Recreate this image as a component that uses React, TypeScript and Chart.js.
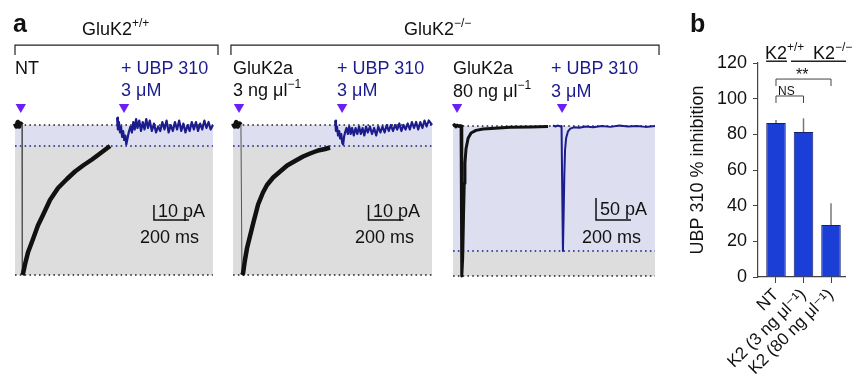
import React, { useEffect, useRef } from "react";
import { Chart, registerables } from "chart.js";

Chart.register(...registerables);

const FONT = "'Liberation Sans', Arial, Helvetica, 'DejaVu Sans', sans-serif";
Chart.defaults.font.family = FONT;

// ---------------- Panel a data ----------------
// time in ms from the left edge of each panel, current in pA (0 = baseline)
const panelStartMs = [0, 1246, 2503];
const panelLengthMs = [1131, 1137, 1154];
const peakPA = [-100, -100, -341];
const residualPA = [-14, -14, -284];
const puffTimesMs = [
  [33, 623],
  [34, 623],
  [23, 623],
];
const scaleBarCornerMs = [794, 774, 817];
const scaleBarCornerPA = [-63.3, -63.3, -213.6];
const scaleBarSizePA = [10, 10, 50];
const scaleBarSizeMs = 200;
const genotypeSpanMs = [
  [0, 1160],
  [1234, 3680],
];

const ntControl: [number, number][] = [
  [0, 1], [8, -1], [16, 2], [24, -1], [32, 1], [40, 0],
  [42, -100], [46, -99], [57, -93], [74, -85], [103, -76], [131, -67], [160, -60],
  [200, -50], [246, -42], [297, -36], [343, -31], [389, -27], [440, -23], [486, -19],
  [520, -16], [543, -14],
];
const ntUbp: [number, number][] = [
  [583, 5], [588, -3], [594, 2], [600, -5], [606, -1], [612, -8], [618, -4], [624, -10],
  [630, -7], [636, -13], [641, -10], [646, -7], [652, -4], [660, -1], [668, -5], [676, 2],
  [684, -3], [692, 4], [700, -2], [710, 3], [720, -4], [730, 2], [740, -3], [750, 4],
  [760, -2], [770, 3], [782, -4], [794, 1], [806, -5], [818, -1], [830, -4], [842, 2],
  [854, -3], [866, 3], [878, -5], [890, 0], [902, -4], [914, 2], [926, -3], [938, 3],
  [950, -4], [962, 1], [974, -5], [986, 0], [998, -4], [1010, 2], [1022, -3], [1034, 2],
  [1046, -4], [1058, 1], [1070, -3], [1082, 3], [1094, -2], [1106, 2], [1118, -3], [1131, 0],
];
const lowControl: [number, number][] = [
  [0, 1], [9, -1], [18, 2], [27, -1], [36, 1], [45, 0],
  [51, -100], [57, -99], [68, -90], [80, -82], [97, -74], [114, -66], [143, -53],
  [171, -45], [194, -40], [229, -35], [269, -31], [309, -27], [354, -24], [400, -21],
  [440, -19], [486, -17], [526, -16], [554, -15],
];
const lowUbp: [number, number][] = [
  [583, 3], [588, -4], [594, -1], [600, -7], [606, -4], [612, -9], [618, -6], [624, -12],
  [629, -13], [634, -8], [640, -5], [648, -2], [656, -6], [664, -1], [672, -6], [680, -2],
  [690, -7], [700, -2], [710, -6], [720, -1], [730, -6], [740, -2], [750, -7], [760, -1],
  [770, -5], [782, -1], [794, -6], [806, -2], [818, -7], [830, -1], [842, -5], [854, -1],
  [866, -5], [878, 0], [890, -4], [902, 0], [914, -4], [926, 0], [938, -3], [950, 1],
  [962, -4], [974, 0], [986, -3], [998, 1], [1010, -3], [1022, 2], [1034, -2], [1046, 2],
  [1058, -3], [1070, 2], [1082, -2], [1094, 3], [1106, -1], [1118, 3], [1137, 0],
];
const highControl: [number, number][] = [
  [0, 0], [8, 3], [16, -2], [24, 2], [32, -1], [40, 1], [46, 0],
  [50, -341], [55, -300], [60, -200], [64, -130], [68, -85], [74, -52], [86, -28],
  [103, -16], [131, -10], [171, -7], [240, -5], [326, -3], [440, -2], [543, -1],
];
const highUbp: [number, number][] = [
  [571, 1], [585, -1], [600, 1], [612, -1], [620, 0], [624, -150], [628, -284],
  [632, -200], [636, -110], [640, -55], [646, -28], [657, -12], [670, -6], [690, -3],
  [720, -4], [760, -1], [800, -3], [850, 0], [900, -2], [950, 1], [1000, -1], [1050, 0],
  [1100, -2], [1154, 0],
];

// ---------------- Panel b data ----------------
const categories = ["NT", "K2 (3 ng μl⁻¹)", "K2 (80 ng μl⁻¹)"];
const inhibitionMean = [86.4, 81.3, 29.2];
const inhibitionSem = [1.6, 7.7, 12.2];
const yTicks = { min: 0, max: 120, step: 20 };
const genotypeGroups = [
  [-0.36, 0.4],
  [0.545, 2.545],
];
const genotypeLineValue = 121;
const significance = [
  { from: 0, to: 2, value: 111, label: "**" },
  { from: 0, to: 1, value: 101.5, label: "NS" },
];

const BLACK = "#111111";
const NAVY = "#1c1c8e";
const VIOLET = "#6b1ff7";
const LAVENDER = "rgb(221,222,240)";
const GREY = "rgb(221,221,221)";
const BAR_BLUE = "#1b3fd6";
const BAR_EDGE = "#13206e";

function Txt(props: { x: number; y: number; s?: number; c?: string; b?: boolean; children: any }) {
  const s = props.s ?? 18;
  return (
    <div
      style={{
        position: "absolute",
        left: props.x,
        top: props.y - 0.85 * s,
        fontSize: s,
        lineHeight: s + "px",
        color: props.c ?? BLACK,
        fontWeight: props.b ? "bold" : "normal",
        whiteSpace: "nowrap",
        fontFamily: FONT,
      }}
    >
      {props.children}
    </div>
  );
}

function Sup(props: { children: any }) {
  return <span style={{ fontSize: 12, position: "relative", top: -8 }}>{props.children}</span>;
}

const panelAPlugin = {
  id: "panelADecor",
  beforeDatasetsDraw(chart: any) {
    const { ctx } = chart;
    const xs = chart.scales.x;
    ctx.save();
    for (let i = 0; i < 3; i++) {
      const ys = chart.scales[i === 2 ? "y3" : "y"];
      const x0 = xs.getPixelForValue(panelStartMs[i]);
      const x1 = xs.getPixelForValue(panelStartMs[i] + panelLengthMs[i]);
      const yb = ys.getPixelForValue(0);
      const yr = ys.getPixelForValue(residualPA[i]);
      const yp = ys.getPixelForValue(peakPA[i]);
      ctx.fillStyle = LAVENDER;
      ctx.fillRect(x0, yb, x1 - x0, yr - yb);
      ctx.fillStyle = GREY;
      ctx.fillRect(x0, yr, x1 - x0, yp - yr);
      ctx.setLineDash([1.6, 3.2]);
      ctx.lineWidth = 1.6;
      const dot = (y: number, c: string) => {
        ctx.strokeStyle = c;
        ctx.beginPath();
        ctx.moveTo(x0, y);
        ctx.lineTo(x1, y);
        ctx.stroke();
      };
      dot(yb, "#222");
      dot(yr, NAVY);
      dot(yp, "#222");
    }
    ctx.setLineDash([]);
    // genotype brackets
    const ys = chart.scales.y;
    ctx.strokeStyle = "#222";
    ctx.lineWidth = 1.2;
    genotypeSpanMs.forEach(([a, b]) => {
      const xa = xs.getPixelForValue(a);
      const xb = xs.getPixelForValue(b);
      const y = ys.getPixelForValue(53.3);
      ctx.beginPath();
      ctx.moveTo(xa, y + 10);
      ctx.lineTo(xa, y);
      ctx.lineTo(xb, y);
      ctx.lineTo(xb, y + 10);
      ctx.stroke();
    });
    ctx.restore();
  },
  afterDatasetsDraw(chart: any) {
    const { ctx } = chart;
    const xs = chart.scales.x;
    ctx.save();
    ctx.strokeStyle = BLACK;
    ctx.lineWidth = 1.5;
    for (let i = 0; i < 3; i++) {
      const ys = chart.scales[i === 2 ? "y3" : "y"];
      const x0 = xs.getPixelForValue(panelStartMs[i] + scaleBarCornerMs[i]);
      const x1 = xs.getPixelForValue(panelStartMs[i] + scaleBarCornerMs[i] + scaleBarSizeMs);
      const y0 = ys.getPixelForValue(scaleBarCornerPA[i]);
      const y1 = ys.getPixelForValue(scaleBarCornerPA[i] + scaleBarSizePA[i]);
      ctx.beginPath();
      ctx.moveTo(x0, y1);
      ctx.lineTo(x0, y0);
      ctx.lineTo(x1, y0);
      ctx.stroke();
    }
    ctx.restore();
  },
};

const panelBPlugin = {
  id: "panelBDecor",
  afterDatasetsDraw(chart: any) {
    const { ctx } = chart;
    const xs = chart.scales.x;
    const ys = chart.scales.y;
    ctx.save();
    ctx.strokeStyle = "#777";
    ctx.lineWidth = 1.5;
    inhibitionMean.forEach((m, i) => {
      const px = xs.getPixelForValue(i);
      ctx.beginPath();
      ctx.moveTo(px, ys.getPixelForValue(m));
      ctx.lineTo(px, ys.getPixelForValue(m + inhibitionSem[i]));
      ctx.stroke();
    });
    ctx.strokeStyle = "#222";
    ctx.lineWidth = 1.5;
    genotypeGroups.forEach(([a, b]) => {
      const y = ys.getPixelForValue(genotypeLineValue);
      ctx.beginPath();
      ctx.moveTo(xs.getPixelForValue(a), y);
      ctx.lineTo(xs.getPixelForValue(b), y);
      ctx.stroke();
    });
    ctx.strokeStyle = "#444";
    ctx.lineWidth = 1;
    significance.forEach((s) => {
      const y = ys.getPixelForValue(s.value);
      const xa = xs.getPixelForValue(s.from);
      const xb = xs.getPixelForValue(s.to);
      ctx.beginPath();
      ctx.moveTo(xa, y + 7);
      ctx.lineTo(xa, y);
      ctx.lineTo(xb, y);
      ctx.lineTo(xb, y + 7);
      ctx.stroke();
    });
    ctx.restore();
  },
};

export default function App() {
  const refA = useRef<HTMLCanvasElement>(null);
  const refB = useRef<HTMLCanvasElement>(null);

  useEffect(() => {
    document.body.style.margin = "0";
    const traces = [
      { d: ntControl, p: 0, c: BLACK, w: 4.5, thin: true },
      { d: ntUbp, p: 0, c: NAVY, w: 2.2, thin: false },
      { d: lowControl, p: 1, c: BLACK, w: 4.5, thin: true },
      { d: lowUbp, p: 1, c: NAVY, w: 2.2, thin: false },
      { d: highControl, p: 2, c: BLACK, w: 3, thin: false },
      { d: highUbp, p: 2, c: NAVY, w: 2, thin: false },
    ];
    const datasets: any[] = traces.map((t) => ({
      data: t.d.map(([ms, pa]) => ({ x: panelStartMs[t.p] + ms, y: pa })),
      yAxisID: t.p === 2 ? "y3" : "y",
      borderColor: t.c,
      borderWidth: t.w,
      pointRadius: 0,
      tension: 0,
      borderJoinStyle: "round",
      clip: false,
      segment: t.thin
        ? {
            borderWidth: (ctx: any) => (ctx.p1.parsed.y - ctx.p0.parsed.y < -50 ? 1 : t.w),
            borderColor: (ctx: any) => (ctx.p1.parsed.y - ctx.p0.parsed.y < -50 ? "#555" : t.c),
          }
        : undefined,
    }));
    datasets.push({
      data: puffTimesMs.flatMap((ts, p) => ts.map((ms) => ({ x: panelStartMs[p] + ms, y: 12 }))),
      yAxisID: "y",
      showLine: false,
      pointStyle: "triangle",
      pointRotation: 180,
      pointRadius: 6,
      pointBackgroundColor: VIOLET,
      pointBorderWidth: 0,
      clip: false,
    });
    const totalMs = 3657;
    const chartA = new Chart(refA.current!, {
      type: "line",
      data: { datasets },
      plugins: [panelAPlugin],
      options: {
        animation: false,
        responsive: false,
        events: [],
        layout: { padding: { left: 15, right: 15, top: 100, bottom: 80 } },
        plugins: { legend: { display: false }, tooltip: { enabled: false } },
        scales: {
          x: { type: "linear", display: false, min: 0, max: totalMs },
          y: { display: false, min: -116.67, max: 16.67 },
          y3: { display: false, min: -395.45, max: 59.09 },
        },
      } as any,
    });

    const chartB = new Chart(refB.current!, {
      type: "bar",
      data: {
        datasets: [
          {
            data: inhibitionMean.map((m, i) => ({ x: i, y: m })),
            backgroundColor: BAR_BLUE,
            borderColor: BAR_EDGE,
            borderWidth: 1,
            barPercentage: 0.71,
            categoryPercentage: 1,
          } as any,
        ],
      },
      plugins: [panelBPlugin],
      options: {
        animation: false,
        responsive: false,
        events: [],
        layout: { padding: { left: 0, right: 7, top: 63, bottom: 0 } },
        plugins: { legend: { display: false }, tooltip: { enabled: false } },
        scales: {
          x: {
            type: "linear",
            min: -0.6545,
            max: 2.509,
            offset: false,
            bounds: "data",
            grid: { display: true, drawOnChartArea: false, drawTicks: true, tickLength: 6, color: "#444", offset: false },
            border: { display: true, color: "#444", width: 1.2 },
            afterBuildTicks: (s: any) => {
              s.ticks = categories.map((_, i) => ({ value: i }));
            },
            afterFit: (s: any) => {
              s.height = 103;
            },
            ticks: {
              autoSkip: false,
              minRotation: 45,
              maxRotation: 45,
              padding: 2,
              color: BLACK,
              font: { size: 17, family: FONT },
              callback: (_v: any, i: number) => categories[i],
            },
          },
          y: {
            min: yTicks.min,
            max: yTicks.max,
            ticks: { stepSize: yTicks.step, padding: 6, color: BLACK, font: { size: 18, family: FONT } },
            grid: { drawOnChartArea: false, tickLength: 5, color: "#444" },
            border: { color: "#444", width: 1.2 },
            title: {
              display: true,
              text: "UBP 310 % inhibition",
              color: BLACK,
              font: { size: 18, family: FONT },
              padding: { top: 7, bottom: 0 },
            },
            afterFit: (s: any) => {
              s.width = 78;
            },
          },
        },
      } as any,
    });
    return () => {
      chartA.destroy();
      chartB.destroy();
    };
  }, []);

  return (
    <div style={{ position: "absolute", left: 0, top: 0, width: 852, height: 380, background: "#fff", overflow: "hidden", fontFamily: FONT }}>
      <canvas ref={refA} width={670} height={380} style={{ position: "absolute", left: 0, top: 0, width: 670, height: 380 }} />
      <canvas ref={refB} width={172} height={380} style={{ position: "absolute", left: 680, top: 0, width: 172, height: 380 }} />

      <Txt x={13} y={32} s={25} b>a</Txt>
      <Txt x={82} y={35}>GluK2<Sup>+/+</Sup></Txt>
      <Txt x={404} y={35}>GluK2<Sup>−/−</Sup></Txt>

      <Txt x={15} y={74}>NT</Txt>
      <Txt x={121} y={74} c={NAVY}>+ UBP 310</Txt>
      <Txt x={121} y={96} c={NAVY}>3 μM</Txt>
      <Txt x={233} y={74}>GluK2a</Txt>
      <Txt x={233} y={96}>3 ng μl<Sup>−1</Sup></Txt>
      <Txt x={337} y={74} c={NAVY}>+ UBP 310</Txt>
      <Txt x={337} y={96} c={NAVY}>3 μM</Txt>
      <Txt x={453} y={74}>GluK2a</Txt>
      <Txt x={453} y={97}>80 ng μl<Sup>−1</Sup></Txt>
      <Txt x={551} y={74} c={NAVY}>+ UBP 310</Txt>
      <Txt x={551} y={97} c={NAVY}>3 μM</Txt>

      <Txt x={158} y={217}>10 pA</Txt>
      <Txt x={140} y={243}>200 ms</Txt>
      <Txt x={373} y={217}>10 pA</Txt>
      <Txt x={355} y={243}>200 ms</Txt>
      <Txt x={600} y={215}>50 pA</Txt>
      <Txt x={582} y={243}>200 ms</Txt>

      <Txt x={690} y={32} s={25} b>b</Txt>
      <Txt x={765} y={59}>K2<Sup>+/+</Sup></Txt>
      <Txt x={813} y={59}>K2<Sup>−/−</Sup></Txt>
      <Txt x={796} y={81} s={16}>**</Txt>
      <Txt x={778} y={95} s={12}>NS</Txt>
    </div>
  );
}
